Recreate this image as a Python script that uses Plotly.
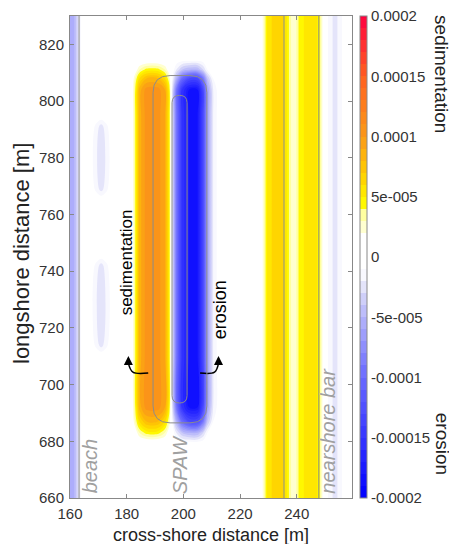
import plotly.graph_objects as go

# ---- data (values in units of 1e-5) ----
x_beach = [160, 161.5, 163, 164.5, 167, 169.5, 171, 172.5, 175, 181.5]
z_beach_plain = [-5, -5, -2.5, 0, 0, 0, 0, 0, 0, 0]
z_beach_patch = [-5, -5, -2.5, 0, 0, -1.5, -2.5, -1.5, 0, 0]

x_spaw = [183, 184.5, 187, 191, 193.5, 195, 196, 197.5, 199.5, 202, 205, 207, 208.5, 210.5, 213]
z_spaw_none = [0, 0, 0, 0, 0, 0, 0, 0, 0, 0, 0, 0, 0, 0, 0]
z_spaw_end = [1, 3, 4.5, 4.5, 3, 1, 0, -2, -4, -5, -5, -3, -1, 0, 0]
z_spaw_mid = [3, 6, 8, 8, 6, 3, -1, -5, -10, -13, -13, -9, -4, -1, 0]
z_spaw_full = [4, 8.5, 10.5, 10.5, 9, 5, -2, -9, -15, -18, -18, -13, -6, -2, 0]

x_bar = [226, 228, 229.5, 232, 234.5, 236.5, 238, 239.5, 241, 244, 246.5, 248, 249.5, 251, 253.5, 256, 259.5]
z_bar = [0, 2, 5, 6.5, 6.5, 5, 3, 2.5, 4.5, 5.5, 5.5, 4.5, 1, -1, -2.5, -1, 0]

y_rows = [660, 679, 683, 687, 692, 710, 714, 742, 746, 765, 769, 791, 795, 804, 808, 811, 815, 830]
row_kind = ["bg", "bg", "end", "mid", "full", "full", "patch", "patch", "full", "full",
            "patch", "patch", "full", "full", "mid", "end", "bg", "bg"]

cbar_vals = [20, 15, 10, 5, 0, -5, -10, -15, -20]
cbar_text = ["0.0002", "0.00015", "0.0001", "5e-005", "0", "-5e-005", "-0.0001", "-0.00015", "-0.0002"]

x_ticks = [160, 180, 200, 220, 240]
y_ticks = [660, 680, 700, 720, 740, 760, 780, 800, 820]

guide_lines_x = [163.2, 235.5, 247.8]
spaw_outer = [189.3, 208.3, 686.5, 809]
spaw_inner = [196, 201.3, 693.5, 802]

sed_arrow_x = [187.6, 182.2, 180.6]
sed_arrow_y = [704.1, 704.4, 707.5]
ero_arrow_x = [205.9, 211.0, 212.4]
ero_arrow_y = [704.1, 704.4, 707.5]

# ---- build grid ----
rows = {
    "bg": (z_beach_plain, z_spaw_none),
    "end": (z_beach_plain, z_spaw_end),
    "mid": (z_beach_plain, z_spaw_mid),
    "full": (z_beach_plain, z_spaw_full),
    "patch": (z_beach_patch, z_spaw_full),
}
xs = x_beach + x_spaw + x_bar
z = []
for k in row_kind:
    b, s = rows[k]
    z.append(b + s + z_bar)

colorscale = [
    [0.0, "#0000ff"], [0.125, "#3535ff"], [0.25, "#6a6aff"], [0.375, "#b4b4fa"],
    [0.425, "#d8d8f8"], [0.45, "#f0f0fc"], [0.475, "#ffffff"], [0.55, "#ffffff"],
    [0.5625, "#ffffd0"], [0.5875, "#ffffa0"], [0.6, "#ffff00"], [0.625, "#fff000"],
    [0.675, "#ffcc00"], [0.75, "#fa9a18"], [0.875, "#ff6020"], [1.0, "#ff0040"],
]

font_main = "Liberation Sans, Arial"

# page has an 8px body margin; figure is sized so it fills the window exactly
FIG_W, FIG_H = 449, 536
M_L, M_R, M_T, M_B = 62, 105, 8, 46
PW = FIG_W - M_L - M_R
PH = FIG_H - M_T - M_B

fig = go.Figure()
fig.add_trace(go.Contour(
    x=xs, y=y_rows, z=z, zmin=-20, zmax=20, zauto=False,
    colorscale=colorscale, autocontour=False,
    contours=dict(start=-20, end=20, size=1, coloring="fill", showlines=False),
    line=dict(width=0, smoothing=1),
    colorbar=dict(
        x=(360 - 70) / PW, xanchor="left", xpad=0, ypad=0, y=0.5, yanchor="middle",
        len=1, lenmode="fraction", thickness=7, outlinecolor="#888", outlinewidth=1,
        tickvals=cbar_vals, ticktext=cbar_text, ticks="", ticklabelposition="outside",
        ticklabeloverflow="allow",
        tickfont=dict(family=font_main, size=15, color="#333"),
    ),
    hoverinfo="skip",
))

grey = "#8a8a8a"
for gx in guide_lines_x:
    fig.add_shape(type="line", x0=gx, x1=gx, y0=660, y1=830, xref="x", yref="y",
                  line=dict(color=grey, width=1))


def rounded(b, r):
    x0, x1, y0, y1 = b
    return (f"M {x0+r},{y0} L {x1-r},{y0} Q {x1},{y0} {x1},{y0+r} L {x1},{y1-r} "
            f"Q {x1},{y1} {x1-r},{y1} L {x0+r},{y1} Q {x0},{y1} {x0},{y1-r} "
            f"L {x0},{y0+r} Q {x0},{y0} {x0+r},{y0} Z")


fig.add_shape(type="path", path=rounded(spaw_outer, 6), line=dict(color="#8c8c8c", width=1))
fig.add_shape(type="path", path=rounded(spaw_inner, 2.6), line=dict(color="#8c8c8c", width=1))

for ax_, ay_ in [(sed_arrow_x, sed_arrow_y), (ero_arrow_x, ero_arrow_y)]:
    fig.add_trace(go.Scatter(x=ax_, y=ay_, mode="lines", line=dict(color="black", width=1.5, shape="spline"),
                             showlegend=False, hoverinfo="skip"))
    fig.add_annotation(x=ax_[-1], y=ay_[-1] + 2.6, ax=ax_[-1], ay=ay_[-1] - 0.3, axref="x", ayref="y",
                       xref="x", yref="y", showarrow=True, arrowhead=2, arrowsize=1.2, arrowwidth=1.5,
                       arrowcolor="black", text="")

fig.add_annotation(x=180.0, y=743.0, text="sedimentation", textangle=-90, showarrow=False,
                   font=dict(family=font_main, size=17, color="black"))
fig.add_annotation(x=213.0, y=726.3, text="erosion", textangle=-90, showarrow=False,
                   font=dict(family=font_main, size=18, color="black"))
lab_font = dict(family=font_main, size=20, color="#a0a0a0")
fig.add_annotation(x=167.1, y=660.8, text="<i>beach</i>", textangle=-90, showarrow=False, yanchor="bottom",
                   font=lab_font)
fig.add_annotation(x=198.8, y=660.8, text="<i>SPAW</i>", textangle=-90, showarrow=False, yanchor="bottom",
                   font=lab_font)
fig.add_annotation(x=251.0, y=660.8, text="<i>nearshore bar</i>", textangle=-90, showarrow=False,
                   yanchor="bottom", font=lab_font)

# colorbar side labels
cb_lab_x = (442 - 70) / PW
fig.add_annotation(x=cb_lab_x, y=1.006, xref="paper", yref="paper", text="sedimentation", textangle=90,
                   showarrow=False, xanchor="center", yanchor="top",
                   font=dict(family=font_main, size=19, color="#222"))
fig.add_annotation(x=cb_lab_x, y=0.044, xref="paper", yref="paper", text="erosion", textangle=90,
                   showarrow=False, xanchor="center", yanchor="bottom",
                   font=dict(family=font_main, size=19, color="#222"))

# axis titles
fig.add_annotation(x=(210.5 - 70) / PW, y=(498 - 535) / PH, xref="paper", yref="paper",
                   text="cross-shore distance [m]", showarrow=False, xanchor="center", yanchor="middle",
                   font=dict(family=font_main, size=18, color="#222"))
fig.add_annotation(x=(21 - 70) / PW, y=(498 - 254) / PH, xref="paper", yref="paper",
                   text="longshore distance [m]", textangle=-90, showarrow=False,
                   xanchor="center", yanchor="middle",
                   font=dict(family=font_main, size=22, color="#222"))

axis_common = dict(showline=True, mirror="ticks", linecolor="#888", linewidth=1, ticks="inside",
                   ticklen=4, tickcolor="#888", showgrid=False, zeroline=False, automargin=False,
                   tickfont=dict(family=font_main, size=15, color="#333"))
fig.update_xaxes(range=[160, 259.5], tickvals=x_ticks, ticklabelstandoff=2, **axis_common)
fig.update_yaxes(range=[660, 830], tickvals=y_ticks, ticklabelstandoff=2, **axis_common)

fig.update_layout(width=FIG_W, height=FIG_H,
                  margin=dict(l=M_L, r=M_R, t=M_T, b=M_B, autoexpand=False),
                  paper_bgcolor="white", plot_bgcolor="white", showlegend=False)

fig.write_html("out.html")
